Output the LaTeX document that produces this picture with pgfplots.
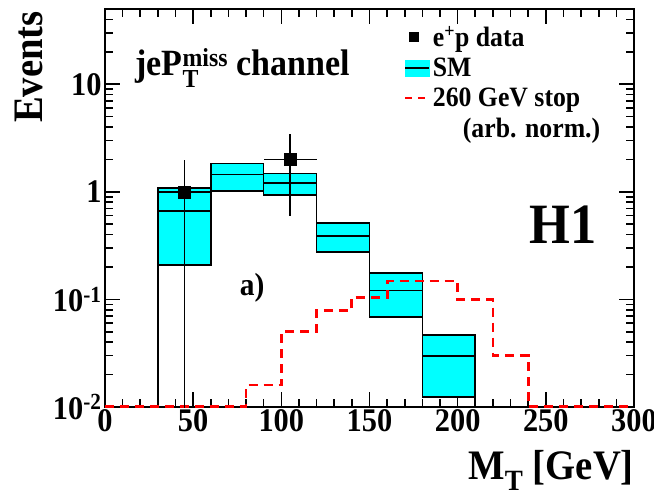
\documentclass[border=0pt]{standalone}
\usepackage{fontspec}
\setmainfont{Liberation Serif}[FakeStretch=0.92]
\usepackage{amsmath}
\usepackage{pgfplots}
\pgfplotsset{compat=1.18}
\definecolor{smcyan}{RGB}{0,255,255}
\definecolor{stopred}{RGB}{255,0,0}
\begin{document}
\begin{tikzpicture}
\useasboundingbox (-105pt,-83pt) rectangle (549pt,407pt);
\begin{axis}[
  scale only axis, width=529pt, height=398pt,
  at={(0pt,0pt)}, anchor=south west,
  ymode=log, xmin=0, xmax=300, ymin=0.01, ymax=50,
  axis line style={line width=2pt},
  tick align=inside,
  tick style={black, line width=1.6pt},
  major tick length=15pt, minor tick length=8pt,
  xtick={0,50,100,150,200,250,300},
  xticklabels={0,50,100,150,200,250,300},
  minor xtick={10,20,30,40,60,70,80,90,110,120,130,140,160,170,180,190,210,220,230,240,260,270,280,290},
  ytick={0.01,0.1,1,10},
  yticklabels={10\textsuperscript{-2},10\textsuperscript{-1},1,10},
  minor ytick={0.02,0.03,0.04,0.05,0.06,0.07,0.08,0.09,0.2,0.3,0.4,0.5,0.6,0.7,0.8,0.9,2,3,4,5,6,7,8,9,20,30,40},
  ticklabel style={font=\fontsize{33}{33}\selectfont\bfseries},
  xticklabel style={inner sep=2pt},
  xlabel={M$_{\text{T}}$ [GeV]},
  xlabel style={font=\fontsize{42}{42}\selectfont\bfseries, at={(axis description cs:1,-0.183)}, anchor=base east, inner sep=0pt},
  ylabel={Events},
  ylabel style={font=\fontsize{42}{42}\selectfont\bfseries, at={(axis description cs:-0.144,0.995)}, anchor=east, inner sep=0pt},
  legend style={at={(0.565,0.962)}, anchor=north west, draw=none, fill=none,
    font=\fontsize{28}{28}\selectfont\bfseries, cells={anchor=west}, row sep=6pt, inner sep=0pt},
]
\addlegendimage{only marks, mark=square*, mark size=4.5pt, black}
\addlegendimage{legend image code/.code={\fill[smcyan] (0pt,-8pt) rectangle (24pt,8pt); \draw[black,line width=1.6pt] (0pt,0pt)--(24pt,0pt);}}
\addlegendimage{legend image code/.code={\draw[stopred,line width=2.8pt,dash pattern=on 7pt off 6pt] (0pt,0pt)--(24pt,0pt);}}
\addlegendimage{empty legend}
\legend{e\textsuperscript{+}p data, SM, 260 GeV stop, \hspace{30pt}(arb. norm.)}

% SM uncertainty bands
\addplot[forget plot, fill=smcyan, draw=black, line width=1.6pt] coordinates {(30,0.21) (30,1.08) (60,1.08) (60,0.21)} -- cycle;
\addplot[forget plot, fill=smcyan, draw=black, line width=1.6pt] coordinates {(60,1.02) (60,1.83) (90,1.83) (90,1.02)} -- cycle;
\addplot[forget plot, fill=smcyan, draw=black, line width=1.6pt] coordinates {(90,0.93) (90,1.48) (120,1.48) (120,0.93)} -- cycle;
\addplot[forget plot, fill=smcyan, draw=black, line width=1.6pt] coordinates {(120,0.275) (120,0.51) (150,0.51) (150,0.275)} -- cycle;
\addplot[forget plot, fill=smcyan, draw=black, line width=1.6pt] coordinates {(150,0.0686) (150,0.175) (180,0.175) (180,0.0686)} -- cycle;
\addplot[forget plot, fill=smcyan, draw=black, line width=1.6pt] coordinates {(180,0.0124) (180,0.0467) (210,0.0467) (210,0.0124)} -- cycle;

% SM central histogram
\addplot[forget plot, black, line width=1.6pt, const plot mark left] coordinates {
 (30,0.005) (30,0.66) (60,1.45) (90,1.2) (120,0.39) (150,0.121) (180,0.0297) (210,0.0297) (210,0.005)};

% stop signal
\addplot[forget plot, stopred, line width=2.8pt, dash pattern=on 9pt off 6pt, const plot mark left] coordinates {
 (0,0.0101) (80,0.016) (100,0.05) (120,0.079) (140,0.105) (160,0.148) (200,0.1) (220,0.030) (240,0.0101) (300,0.0101)};

% data
\addplot[forget plot, black, only marks, mark=square*, mark size=6pt,
  error bars/.cd, x dir=both, x explicit, y dir=both, y explicit, error mark=none,
  error bar style={line width=1.6pt}] coordinates {
 (45,1) += (15,0.97) -= (15,0.995)
 (105,2) += (15,1.45) -= (15,1.41)};

\node[anchor=base west, font=\fontsize{37}{37}\selectfont\bfseries, inner sep=0pt] at (axis description cs:0.057,0.834) {jeP$_{\text{T}}^{\text{miss}}$ channel};
\node[anchor=base, font=\fontsize{57}{57}\selectfont\bfseries, inner sep=0pt] at (axis description cs:0.866,0.412) {H1};
\node[font=\fontsize{32}{32}\selectfont\bfseries, inner sep=0pt] at (axis description cs:0.278,0.299) {a)};
\end{axis}
\end{tikzpicture}
\end{document}
